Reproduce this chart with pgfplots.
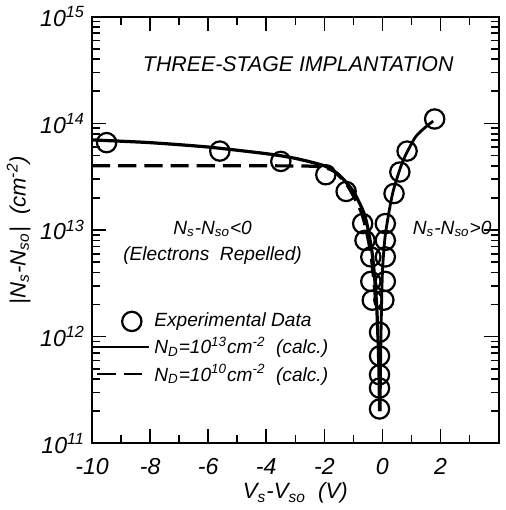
\documentclass[border=0pt]{standalone}
\usepackage{fontspec}
\setmainfont{Liberation Sans}
\usepackage{pgfplots}
\pgfplotsset{compat=1.18}

\pgfplotsset{
    circle legend/.style={legend image code/.code={\draw[##1] plot coordinates {(0.6cm,0cm)};}},
    long line legend/.style={legend image code/.code={\draw[##1, line width=1.3pt] (0cm,0cm) -- (0.9cm,0cm);}},
}

\begin{document}
\begin{tikzpicture}
\begin{axis}[
    scale only axis,
    width=202pt, height=212pt,
    ymode=log,
    xmin=-10, xmax=4,
    ymin=1e11, ymax=1e15,
    xtick={-10,-8,-6,-4,-2,0,2,4},
    xticklabels={-10,-8,-6,-4,-2,0,2,},
    minor xtick={-9,-7,-5,-3,-1,1,3},
    ytick={1e11,1e12,1e13,1e14,1e15},
    yticklabels={10\textsuperscript{11},10\textsuperscript{12},10\textsuperscript{13},10\textsuperscript{14},10\textsuperscript{15}},
    extra y ticks={2e11,3e11,4e11,5e11,6e11,7e11,8e11,9e11,
                 2e12,3e12,4e12,5e12,6e12,7e12,8e12,9e12,
                 2e13,3e13,4e13,5e13,6e13,7e13,8e13,9e13,
                 2e14,3e14,4e14,5e14,6e14,7e14,8e14,9e14},
    extra y tick labels={},
    extra y tick style={major tick length=4pt},
    tick align=inside,
    major tick length=7pt, minor tick length=4pt,
    tick style={black, line width=0.8pt},
    axis line style={line width=1pt},
    ticklabel style={font=\fontsize{11.5}{13}\selectfont\itshape},
    xticklabel style={yshift=-4pt},
    xlabel={V\textsubscript{s}-V\textsubscript{so}\ \ (V)},
    ylabel={|N\textsubscript{s}-N\textsubscript{so}|\ \ (cm\textsuperscript{-2})},
    label style={font=\fontsize{11}{13}\selectfont\itshape},
    xlabel style={yshift=3pt},
    ylabel style={yshift=-2pt},
    legend style={draw=none, fill=none, at={(0.01,0.315)}, anchor=north west,
        font=\fontsize{9.5}{11}\selectfont\itshape, row sep=-0.5pt,
        inner sep=0pt, outer sep=0pt},
    legend cell align=left,
    clip=false,
]

% experimental data
\addplot[only marks, mark=o, mark size=4.8pt, line width=1.1pt, black, circle legend]
coordinates {
(-9.5,6.6e13)(-5.6,5.5e13)(-3.5,4.4e13)(-1.95,3.3e13)(-1.25,2.3e13)
(-0.68,1.15e13)(-0.6,8e12)
(1.8,1.1e14)(0.85,5.5e13)(0.6,3.5e13)(0.4,2.2e13)(0.1,1.15e13)(0.1,8e12)
(-0.4,5.6e12)(0.1,5.6e12)(-0.4,3.3e12)(0.1,3.3e12)(-0.35,2.2e12)(0.05,2.2e12)
(-0.1,1.1e12)(-0.1,6.6e11)(-0.1,4.4e11)(-0.1,3.3e11)(-0.1,2.1e11)
};
\addlegendentry{Experimental Data}

% N_D = 10^13 (solid)
\addplot[black, line width=1.6pt, smooth, tension=0.4, long line legend]
coordinates {
(-10,7.0e13)(-8,6.6e13)(-6,6.0e13)(-4,5.2e13)(-3,4.7e13)(-2,4.0e13)
(-1.5,3.3e13)(-1,2.3e13)(-0.6,1.35e13)(-0.35,6e12)(-0.2,2e12)(-0.12,5e11)(-0.1,2e11)
};
\addlegendentry{N\textsubscript{D}=10\textsuperscript{13}cm\textsuperscript{-2}\ \ (calc.)}

% N_D = 10^10 (dashed)
\addplot[black, line width=1.6pt, dash pattern=on 9pt off 4pt, smooth, tension=0.4, long line legend]
coordinates {
(-10,4.0e13)(-4,4.0e13)(-2.3,3.95e13)(-1.7,3.6e13)(-1.2,2.6e13)
(-0.7,1.4e13)(-0.4,6e12)(-0.22,2e12)
};
\addlegendentry{N\textsubscript{D}=10\textsuperscript{10}cm\textsuperscript{-2}\ \ (calc.)}

% positive branch (solid)
\addplot[black, line width=1.4pt, smooth, tension=0.4, forget plot]
coordinates {
(-0.08,2e11)(-0.05,1e12)(0.0,4e12)(0.1,9e12)(0.35,2.2e13)(0.7,4.4e13)
(1.13,7.4e13)(1.5,9.3e13)(1.75,1.05e14)
};

\node[font=\fontsize{10.6}{12}\selectfont\itshape] at (axis cs:-2.9,3.6e14) {THREE-STAGE IMPLANTATION};
\node[font=\fontsize{9.5}{11}\selectfont\itshape] at (axis cs:-5.85,1.02e13) {N\textsubscript{s}-N\textsubscript{so}<0};
\node[font=\fontsize{9.5}{11}\selectfont\itshape] at (axis cs:-5.85,5.8e12) {(Electrons\ \ Repelled)};
\node[font=\fontsize{9.5}{11}\selectfont\itshape, anchor=east] at (axis cs:4,1.02e13) {N\textsubscript{s}-N\textsubscript{so}>0};

\end{axis}
\end{tikzpicture}
\end{document}
